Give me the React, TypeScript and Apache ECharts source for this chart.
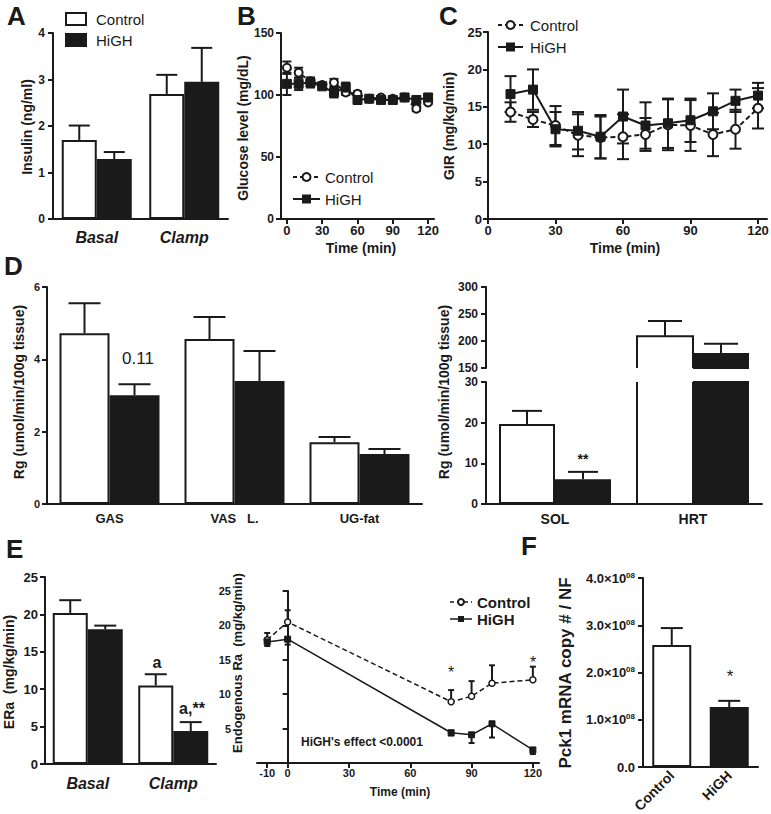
import React, { useEffect, useRef } from 'react';
import * as echarts from 'echarts';

const FONT = "'Liberation Sans', Arial, Helvetica, sans-serif";
const INK = '#1a1a1a';

// ---------- Panel A: insulin ----------
const insulinCategories = ['Basal', 'Clamp'];
const insulinControl = [1.7, 2.69];
const insulinControlSem = [0.31, 0.41];
const insulinHiGH = [1.29, 2.95];
const insulinHiGHSem = [0.15, 0.73];

// ---------- Panel B: glucose ----------
const glucoseTime = [0, 10, 20, 30, 40, 50, 60, 70, 80, 90, 100, 110, 120];
const glucoseControl = [122, 118, 111, 108, 110, 102, 101, 97, 98, 97, 98, 89, 94];
const glucoseControlSem = [5, 4, 3, 2, 3, 2, 2, 1, 1, 1, 1, 2, 1];
const glucoseHiGH = [109, 109, 110, 107, 102, 106, 96, 97, 96, 96, 98, 96, 98];
const glucoseHiGHSem = [9, 5, 4, 2, 4, 4, 3, 1, 2, 2, 2, 2, 2];
const timeTicks = [0, 30, 60, 90, 120];

// ---------- Panel C: GIR ----------
const girTime = [10, 20, 30, 40, 50, 60, 70, 80, 90, 100, 110, 120];
const girControl = [14.3, 13.3, 12.5, 11.2, 10.9, 11.0, 11.3, 12.6, 12.5, 11.3, 12.0, 14.8];
const girControlSem = [1.3, 1.0, 2.6, 2.8, 2.8, 3.0, 2.2, 3.4, 3.4, 2.9, 2.6, 2.7];
const girHiGH = [16.7, 17.3, 12.0, 11.8, 11.0, 13.7, 12.5, 12.8, 13.2, 14.4, 15.8, 16.5];
const girHiGHSem = [2.4, 2.7, 2.3, 2.5, 2.9, 3.6, 3.1, 3.3, 2.9, 2.4, 1.5, 1.7];

// ---------- Panel D: Rg ----------
const rgLeftCategories = ['GAS', 'VAS\u00a0\u00a0\u00a0L.', 'UG-fat'];
const rgLeftControl = [4.72, 4.56, 1.71];
const rgLeftControlSem = [0.83, 0.61, 0.14];
const rgLeftHiGH = [3.01, 3.4, 1.38];
const rgLeftHiGHSem = [0.3, 0.83, 0.14];
const rgRightCategories = ['SOL', 'HRT'];
const rgRightControl = [19.7, 209];
const rgRightControlSem = [3.2, 28];
const rgRightHiGH = [6.1, 178];
const rgRightHiGHSem = [1.8, 17];
const rgLowRange = [0, 30];
const rgHighRange = [150, 300];

// ---------- Panel E: ERa ----------
const eraCategories = ['Basal', 'Clamp'];
const eraControl = [20.2, 10.5];
const eraControlSem = [1.7, 1.5];
const eraHiGH = [18.0, 4.4];
const eraHiGHSem = [0.5, 1.2];
const endoTime = [-10, 0, 80, 90, 100, 120];
const endoControl = [17.9, 20.5, 8.9, 9.7, 11.6, 12.1];
const endoControlSem = [1.0, 1.7, 1.7, 2.2, 2.6, 1.9];
const endoHiGH = [17.6, 18.0, 4.4, 4.1, 5.7, 1.9];
const endoHiGHSem = [0.6, 0.8, 0.4, 1.2, 2.0, 0.6];
const endoTicks = [-10, 0, 30, 60, 90, 120];

// ---------- Panel F: Pck1 ----------
const pckCategories = ['Control', 'HiGH'];
const pckValues = [2.58e8, 1.27e8];
const pckSem = [0.36e8, 0.13e8];

// ---------- helpers ----------
const axisLine = { show: true, onZero: false, lineStyle: { color: INK, width: 2 } };
const tick = { show: true, length: 5, inside: false, lineStyle: { color: INK, width: 2 } };

function yVal(g: number, min: number, max: number, interval: number, fontSize: number, margin: number, extra: any = {}) {
  return {
    type: 'value', gridIndex: g, min, max, interval,
    axisLine: { ...axisLine, ...(extra.axisLine || {}) },
    axisTick: tick,
    axisLabel: { color: INK, fontFamily: FONT, fontWeight: 'bold', fontSize, margin, ...(extra.axisLabel || {}) },
    splitLine: { show: false },
  };
}
function xVal(g: number, min: number, max: number, ticks: number[], fontSize: number, margin: number) {
  return {
    type: 'value', gridIndex: g, min, max,
    axisLine,
    axisTick: { ...tick, customValues: ticks },
    axisLabel: { color: INK, fontFamily: FONT, fontWeight: 'bold', fontSize, margin, customValues: ticks },
    splitLine: { show: false },
  };
}
function xCat(g: number, data: string[], fontSize: number, margin: number, italic = false, extra: any = {}) {
  return {
    type: 'category', gridIndex: g, data,
    axisLine, axisTick: { show: false },
    axisLabel: { color: INK, fontFamily: FONT, fontWeight: 'bold', fontStyle: italic ? 'italic' : 'normal', fontSize, margin, interval: 0, ...extra },
    splitLine: { show: false },
  };
}
function bars(g: number, vals: any[], width: number, white: boolean) {
  return {
    type: 'bar', xAxisIndex: g, yAxisIndex: g, data: vals, barWidth: width, barGap: '0%', clip: true, silent: true, z: 2,
    itemStyle: white ? { color: '#fff', borderColor: INK, borderWidth: 2 } : { color: INK, borderColor: INK, borderWidth: 2 },
  };
}
function errBars(g: number, rows: number[][], cap: number, z: number) {
  return {
    type: 'custom', xAxisIndex: g, yAxisIndex: g, z, silent: true,
    data: rows,
    encode: { x: 0, y: 1 },
    renderItem: (_p: any, api: any) => {
      const x = api.value(0), v = api.value(1), up = api.value(2), dn = api.value(3), off = api.value(4);
      const c = api.coord([x, v]);
      const t = api.coord([x, v + up]);
      const b = api.coord([x, v - dn]);
      const cx = c[0] + off;
      const st = { stroke: INK, lineWidth: 2 };
      const ch: any[] = [{ type: 'line', shape: { x1: cx, y1: b[1], x2: cx, y2: t[1] }, style: st }];
      if (up > 0) ch.push({ type: 'line', shape: { x1: cx - cap / 2, y1: t[1], x2: cx + cap / 2, y2: t[1] }, style: st });
      if (dn > 0) ch.push({ type: 'line', shape: { x1: cx - cap / 2, y1: b[1], x2: cx + cap / 2, y2: b[1] }, style: st });
      return { type: 'group', children: ch };
    },
  };
}
// outline of an open (white) bar cut by an axis break
function openBar(g: number, cat: number, base: number, top: number, offset: number, width: number, drawTop: boolean) {
  return {
    type: 'custom', xAxisIndex: g, yAxisIndex: g, z: 4, silent: true,
    data: [[cat, base, top, offset, width, drawTop ? 1 : 0]],
    encode: { x: 0, y: [1, 2] },
    renderItem: (_p: any, api: any) => {
      const c = api.value(0);
      const b = api.coord([c, api.value(1)]);
      const t = api.coord([c, api.value(2)]);
      const cx = b[0] + api.value(3);
      const w = api.value(4);
      const xl = cx - w / 2, xr = cx + w / 2;
      const pts = api.value(5) ? [[xl, b[1]], [xl, t[1]], [xr, t[1]], [xr, b[1]]] : null;
      const st = { stroke: INK, lineWidth: 2, fill: null };
      if (pts) return { type: 'polyline', shape: { points: pts }, style: st };
      return {
        type: 'group', children: [
          { type: 'line', shape: { x1: xl, y1: b[1], x2: xl, y2: t[1] }, style: st },
          { type: 'line', shape: { x1: xr, y1: b[1], x2: xr, y2: t[1] }, style: st },
        ],
      };
    },
  };
}
function lineSeries(g: number, xs: number[], ys: number[], ctrl: boolean, size: number, width: number) {
  return {
    type: 'line', xAxisIndex: g, yAxisIndex: g, z: 3, silent: true,
    data: xs.map((x, i) => [x, ys[i]]),
    symbol: ctrl ? 'circle' : 'rect', symbolSize: size, showAllSymbol: true,
    itemStyle: ctrl ? { color: '#fff', borderColor: INK, borderWidth: 2 } : { color: INK, borderColor: INK, borderWidth: 1 },
    lineStyle: { color: INK, width, type: ctrl ? [5, 3] : 'solid' },
  };
}
function T(text: string, x: number, y: number, size: number, o: any = {}) {
  return {
    type: 'text', x, y, silent: true, rotation: o.rot || 0,
    style: {
      text, fill: INK, fontFamily: FONT, fontSize: size,
      fontWeight: o.bold === false ? 'normal' : 'bold', fontStyle: o.italic ? 'italic' : 'normal',
      align: o.align || 'center', verticalAlign: 'middle',
    },
  };
}
function lineLegend(x1: number, x2: number, y: number, ctrl: boolean, r: number, lw: number) {
  const cx = (x1 + x2) / 2;
  const els: any[] = [
    { type: 'line', silent: true, shape: { x1, y1: y, x2, y2: y }, style: { stroke: INK, lineWidth: lw, lineDash: ctrl ? [4, 3] : null } },
  ];
  if (ctrl) els.push({ type: 'circle', silent: true, shape: { cx, cy: y, r }, style: { fill: '#fff', stroke: INK, lineWidth: 2 } });
  else els.push({ type: 'rect', silent: true, shape: { x: cx - r, y: y - r, width: 2 * r, height: 2 * r }, style: { fill: INK } });
  return els;
}

function buildOption(): any {
  const grids = [
    { left: 53, top: 33, width: 175, height: 186 }, // A
    { left: 281, top: 33, width: 153, height: 186 }, // B
    { left: 488, top: 32, width: 279, height: 187 }, // C
    { left: 47, top: 287, width: 375, height: 217 }, // D left
    { left: 486, top: 287, width: 276, height: 81 }, // D right top
    { left: 486, top: 382, width: 276, height: 122 }, // D right bottom
    { left: 45, top: 577, width: 171, height: 187 }, // E left
    { left: 257, top: 591, width: 282, height: 172 }, // E mid
    { left: 643, top: 578, width: 115, height: 189 }, // F
  ].map((g) => ({ ...g, containLabel: false, outerBoundsMode: 'none', show: false }));

  const xAxis = [
    xCat(0, insulinCategories, 16, 10, true),
    xVal(1, -5, 125, timeTicks, 13, 5),
    xVal(2, 0, 124, timeTicks, 13, 5),
    xCat(3, rgLeftCategories, 13, 8),
    { type: 'category', gridIndex: 4, data: rgRightCategories, show: false },
    xCat(5, rgRightCategories, 14, 8),
    xCat(6, eraCategories, 16, 11, true),
    xVal(7, -15, 123, endoTicks, 11, 4),
    xCat(8, pckCategories, 14, 6, false, { rotate: 45 }),
  ];

  const yAxis = [
    yVal(0, 0, 4, 1, 12, 8),
    yVal(1, 0, 150, 50, 12, 7),
    yVal(2, 0, 25, 5, 13, 6),
    yVal(3, 0, 6, 2, 11, 7),
    yVal(4, rgHighRange[0], rgHighRange[1], 50, 12, 8),
    yVal(5, rgLowRange[0], rgLowRange[1], 10, 12, 8),
    yVal(6, 0, 25, 5, 13, 7),
    yVal(7, 0, 25, 5, 11, 26, { axisLine: { onZero: true }, axisLabel: { showMinLabel: false } }),
    yVal(8, 0, 4e8, 1e8, 13, 8, {
      axisLabel: {
        formatter: (v: number) => (v === 0 ? '0.0' : `${(v / 1e8).toFixed(1)}×10{sup|08}`),
        rich: { sup: { fontSize: 8, fontWeight: 'bold', fontFamily: FONT, color: INK, verticalAlign: 'top', padding: [0, 0, 6, 0] } },
      },
    }),
  ];

  const inLow = (v: number) => v <= rgLowRange[1];
  const inHigh = (v: number) => v >= rgHighRange[0];

  const series: any[] = [
    // A
    bars(0, insulinControl, 35, true),
    bars(0, insulinHiGH, 35, false),
    errBars(0, [
      ...insulinControl.map((v, i) => [i, v, insulinControlSem[i], 0, -17.5]),
      ...insulinHiGH.map((v, i) => [i, v, insulinHiGHSem[i], 0, 17.5]),
    ], 21, 5),
    // B
    errBars(1, [
      ...glucoseTime.map((t, i) => [t, glucoseControl[i], glucoseControlSem[i], glucoseControlSem[i], 0]),
      ...glucoseTime.map((t, i) => [t, glucoseHiGH[i], glucoseHiGHSem[i], glucoseHiGHSem[i], 0]),
    ], 9, 1),
    lineSeries(1, glucoseTime, glucoseControl, true, 8, 2),
    lineSeries(1, glucoseTime, glucoseHiGH, false, 9, 2),
    // C
    errBars(2, [
      ...girTime.map((t, i) => [t, girControl[i], girControlSem[i], girControlSem[i], 0]),
      ...girTime.map((t, i) => [t, girHiGH[i], girHiGHSem[i], girHiGHSem[i], 0]),
    ], 12, 1),
    lineSeries(2, girTime, girControl, true, 9, 2),
    lineSeries(2, girTime, girHiGH, false, 9, 2),
    // D left
    bars(3, rgLeftControl, 50, true),
    bars(3, rgLeftHiGH, 50, false),
    errBars(3, [
      ...rgLeftControl.map((v, i) => [i, v, rgLeftControlSem[i], 0, -25]),
      ...rgLeftHiGH.map((v, i) => [i, v, rgLeftHiGHSem[i], 0, 25]),
    ], 32, 5),
    // D right top (150-300)
    bars(4, rgRightControl.map(() => '-'), 56, true),
    bars(4, rgRightHiGH.map((v) => (inHigh(v) ? v : '-')), 56, false),
    ...rgRightControl.map((v, i) => (inHigh(v) ? openBar(4, i, rgHighRange[0], v, -28, 56, true) : null)).filter(Boolean),
    errBars(4, [
      ...rgRightControl.map((v, i) => [i, v, rgRightControlSem[i], 0, -28]).filter((r) => inHigh(r[1])),
      ...rgRightHiGH.map((v, i) => [i, v, rgRightHiGHSem[i], 0, 28]).filter((r) => inHigh(r[1])),
    ], 34, 5),
    // D right bottom (0-30)
    bars(5, rgRightControl.map((v) => (inLow(v) ? v : '-')), 56, true),
    bars(5, rgRightHiGH, 56, false),
    ...rgRightControl.map((v, i) => (!inLow(v) ? openBar(5, i, rgLowRange[0], rgLowRange[1], -28, 56, false) : null)).filter(Boolean),
    errBars(5, [
      ...rgRightControl.map((v, i) => [i, v, rgRightControlSem[i], 0, -28]).filter((r) => inLow(r[1])),
      ...rgRightHiGH.map((v, i) => [i, v, rgRightHiGHSem[i], 0, 28]).filter((r) => inLow(r[1])),
    ], 30, 5),
    // E left
    bars(6, eraControl, 35, true),
    bars(6, eraHiGH, 35, false),
    errBars(6, [
      ...eraControl.map((v, i) => [i, v, eraControlSem[i], 0, -17.5]),
      ...eraHiGH.map((v, i) => [i, v, eraHiGHSem[i], 0, 17.5]),
    ], 22, 5),
    // E mid
    errBars(7, [
      ...endoTime.map((t, i) => [t, endoControl[i], endoControlSem[i], 0, 0]),
      ...endoTime.map((t, i) => [t, endoHiGH[i], 0, endoHiGHSem[i], 0]),
    ], 6, 1),
    { ...lineSeries(7, endoTime, endoControl, true, 6, 1.5), itemStyle: { color: '#fff', borderColor: INK, borderWidth: 1.5 } },
    lineSeries(7, endoTime, endoHiGH, false, 6, 1.5),
    // F
    {
      type: 'bar', xAxisIndex: 8, yAxisIndex: 8, barWidth: 39, silent: true, z: 2,
      data: pckValues.map((v, i) => ({
        value: v,
        itemStyle: i === 0 ? { color: '#fff', borderColor: INK, borderWidth: 2 } : { color: INK, borderColor: INK, borderWidth: 2 },
      })),
    },
    errBars(8, pckValues.map((v, i) => [i, v, pckSem[i], 0, 0]), 22, 5),
  ];

  const rot = Math.PI / 2;
  const elements: any[] = [
    // panel letters
    T('A', 7, 16, 26, { align: 'left' }),
    T('B', 237, 16, 26, { align: 'left' }),
    T('C', 439, 16, 26, { align: 'left' }),
    T('D', 4, 266, 26, { align: 'left' }),
    T('E', 6, 549, 26, { align: 'left' }),
    T('F', 521, 546, 26, { align: 'left' }),
    // y-axis titles
    T('Insulin (ng/ml)', 27, 127, 14, { rot }),
    T('Glucose level (mg/dL)', 243, 128, 14, { rot }),
    T('GIR (mg/kg/min)', 449, 126, 14, { rot }),
    T('Rg (umol/min/100g tissue)', 19, 392, 14, { rot }),
    T('Rg (umol/min/100g tissue)', 444, 392, 14, { rot }),
    T('ERa\u00a0\u00a0(mg/kg/min)', 9, 672, 14, { rot }),
    T('Endogenous Ra\u00a0\u00a0(mg/kg/min)', 237, 663, 13, { rot }),
    T('Pck1 mRNA copy # / NF', 565, 673, 17, { rot }),
    // x-axis titles
    T('Time (min)', 361, 248, 14),
    T('Time (min)', 625, 248, 14),
    T('Time (min)', 400, 792, 12),
    // annotations
    T('0.11', 138, 358, 17, { bold: false }),
    T('**', 583, 459, 14),
    T('a', 157, 662, 16),
    T('a,**', 192, 708, 16),
    T('*', 451, 672, 16, { bold: false }),
    T('*', 533, 662, 16, { bold: false }),
    T('*', 730, 676, 17, { bold: false }),
    T("HiGH's effect <0.0001", 301, 742, 12, { align: 'left' }),
    // legend A
    { type: 'rect', silent: true, shape: { x: 66, y: 13, width: 20, height: 12 }, style: { fill: '#fff', stroke: INK, lineWidth: 2 } },
    { type: 'rect', silent: true, shape: { x: 66, y: 34, width: 20, height: 12 }, style: { fill: INK, stroke: INK, lineWidth: 2 } },
    T('Control', 96, 19, 15, { bold: false, align: 'left' }),
    T('HiGH', 96, 40, 15, { bold: false, align: 'left' }),
    // legend B
    ...lineLegend(293, 320, 177, true, 4, 2),
    ...lineLegend(293, 320, 199, false, 4.5, 2),
    T('Control', 325, 177, 15, { bold: false, align: 'left' }),
    T('HiGH', 325, 199, 15, { bold: false, align: 'left' }),
    // legend C
    ...lineLegend(498, 523, 25, true, 4, 2),
    ...lineLegend(498, 523, 47, false, 4.5, 2),
    T('Control', 530, 25, 15, { bold: false, align: 'left' }),
    T('HiGH', 530, 47, 15, { bold: false, align: 'left' }),
    // legend E mid
    ...lineLegend(450, 472, 602, true, 3, 1.5),
    ...lineLegend(450, 472, 619, false, 3, 1.5),
    T('Control', 477, 602, 15, { align: 'left' }),
    T('HiGH', 477, 619, 15, { align: 'left' }),
  ];

  return {
    animation: false,
    backgroundColor: '#fff',
    grid: grids,
    xAxis,
    yAxis,
    series,
    graphic: { elements },
  };
}

export default function App() {
  const ref = useRef<HTMLDivElement>(null);
  useEffect(() => {
    if (!ref.current) return;
    const chart = echarts.init(ref.current, null, { renderer: 'svg' });
    chart.setOption(buildOption());
    return () => chart.dispose();
  }, []);
  return (
    <div
      ref={ref}
      style={{ position: 'absolute', left: 0, top: 0, width: 771, height: 814, background: '#fff' }}
    />
  );
}
